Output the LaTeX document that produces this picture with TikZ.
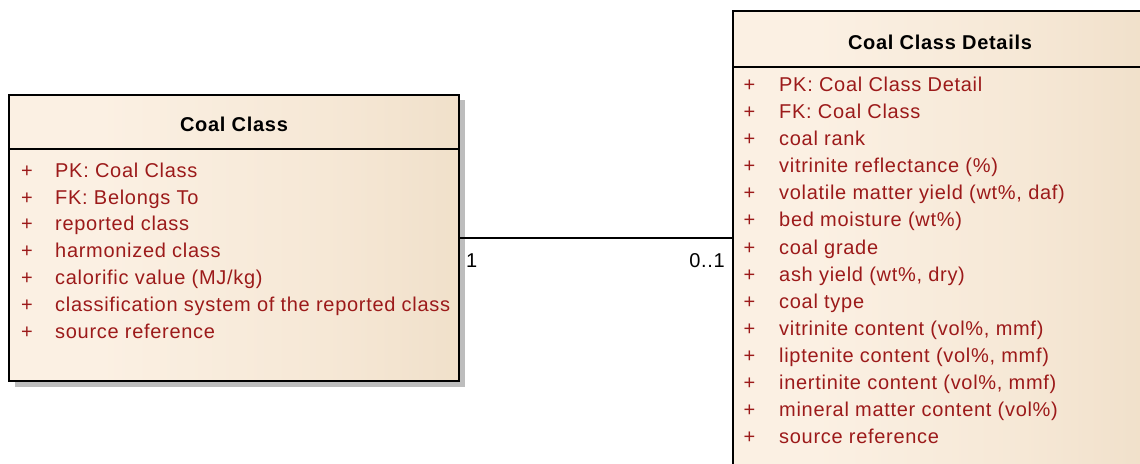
\documentclass[tikz,border=0pt]{standalone}
\usepackage{fontspec}
\setmainfont{Liberation Sans}[LetterSpace=3.5]
\usetikzlibrary{positioning,shadows}

\definecolor{attrred}{HTML}{9C1A1A}
\definecolor{creamleft}{HTML}{FBF0E3}
\definecolor{creammid}{HTML}{F6E8D6}
\definecolor{creamright}{HTML}{E7D3B7}
\definecolor{shadowgray}{HTML}{BDBDBD}

\pgfdeclarehorizontalshading{creamfade}{100bp}{color(0bp)=(creamleft);
  color(35bp)=(creamleft); color(60bp)=(creammid); color(100bp)=(creamright)}

\newcommand\umlfont{\fontsize{20}{24}\selectfont}

\tikzset{
  classbox/.style = {draw=black, line width=1.8pt, shading=creamfade,
    inner sep=0pt},
  headline/.style = {line width=1.4pt},
  title/.style = {font=\umlfont\bfseries, inner sep=0pt, anchor=base},
  plus/.style = {font=\umlfont, text=attrred, inner sep=0pt, anchor=base},
  attr/.style = {font=\umlfont, text=attrred, inner sep=0pt, anchor=base west},
  mult/.style = {font=\umlfont, inner sep=0pt},
  link/.style = {line width=1.4pt}
}

\begin{document}
\begin{tikzpicture}[x=1pt, y=-1pt]
    \useasboundingbox (0,0) rectangle (1140,463);
    \clip (0,0) rectangle (1140,463);

    % shadow under the left class, then the two classes
    \fill[shadowgray] (15,100) rectangle (465,387);
    \node[classbox, minimum width=450pt, minimum height=286pt]
      (coalclass) at (234,238) {};
    \node[classbox, minimum width=414pt, minimum height=470pt]
      (details) at (940,246) {};

    \draw[headline] (coalclass.west |- 0,149) -- (coalclass.east |- 0,149);
    \draw[headline] (details.west |- 0,67) -- (details.east |- 0,67);

    \node[title] (cctitle) at (234,131.5) {Coal Class};
    \node[title] (cdtitle) at (940,49) {Coal Class Details};

    % attributes
    \foreach \attrname [count=\i] in {PK: Coal Class, FK: Belongs To,
        reported class, harmonized class, calorific value (MJ/kg),
        classification system of the reported class, source reference} {
      \node[plus] (ccplus\i) at (27,{150.5+26.8*\i}) {+};
      \node[attr] (ccattr\i) at (55,{150.5+26.8*\i}) {\attrname};
    }
    \foreach \attrname [count=\i] in {PK: Coal Class Detail, FK: Coal Class,
        coal rank, vitrinite reflectance (\%), {volatile matter yield (wt\%, daf)},
        bed moisture (wt\%), coal grade, {ash yield (wt\%, dry)}, coal type,
        {vitrinite content (vol\%, mmf)}, {liptenite content (vol\%, mmf)},
        {inertinite content (vol\%, mmf)}, mineral matter content (vol\%),
        source reference} {
      \node[plus] (cdplus\i) at (749.5,{64.65+27.05*\i}) {+};
      \node[attr] (cdattr\i) at (779,{64.65+27.05*\i}) {\attrname};
    }

    % association
    \draw[link] (coalclass.east) -- (coalclass.east -| details.west);
    \node[mult, anchor=base west] (srcmult) at (466,267) {1};
    \node[mult, anchor=base east] (dstmult) at (725,267) {0..1};
\end{tikzpicture}
\end{document}
